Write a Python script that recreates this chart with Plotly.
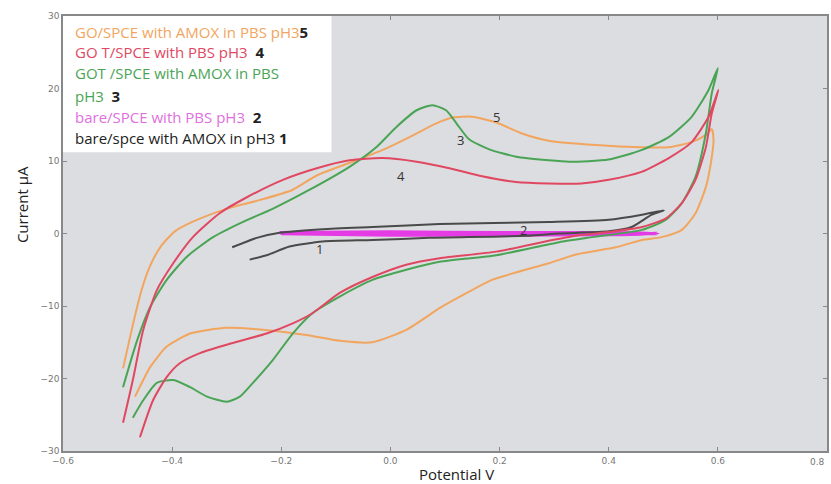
import plotly.graph_objects as go

# ---- data (potential V, current uA) ----
go_amox_x = [-0.49, -0.472, -0.456, -0.44, -0.42, -0.395, -0.36, -0.30, -0.24, -0.18, -0.135, -0.062, -0.015, 0.035, 0.084, 0.114, 0.15, 0.194, 0.241, 0.29, 0.377, 0.46, 0.51, 0.552, 0.578, 0.589,
             0.592, 0.589, 0.578, 0.559, 0.534, 0.497, 0.461, 0.413, 0.34, 0.29, 0.186, 0.14, 0.09, 0.029, -0.033, -0.093, -0.154, -0.216, -0.30, -0.367, -0.41, -0.44, -0.468]
go_amox_y = [-18.6, -12.6, -7.8, -4.4, -1.7, 0.3, 1.7, 3.4, 4.6, 6.0, 8.0, 10.1, 11.5, 13.3, 15.2, 16.0, 16.1, 15.3, 13.8, 12.8, 12.2, 11.9, 11.9, 12.6, 13.6, 14.4,
             12.9, 10.6, 6.4, 2.8, 0.5, -0.5, -0.9, -1.9, -2.9, -4.1, -6.4, -8.2, -10.3, -13.3, -15.0, -14.8, -14.0, -13.4, -13.0, -13.8, -15.6, -18.4, -22.5]

got_pbs_x = [-0.49, -0.472, -0.453, -0.428, -0.398, -0.362, -0.313, -0.263, -0.197, -0.135, -0.075, -0.015, 0.048, 0.108, 0.168, 0.23, 0.29, 0.35, 0.40, 0.46, 0.51, 0.552, 0.583, 0.601,
             0.589, 0.578, 0.559, 0.534, 0.505, 0.461, 0.40, 0.34, 0.29, 0.194, 0.09, 0.029, -0.033, -0.093, -0.143, -0.179, -0.227, -0.289, -0.349, -0.386, -0.41, -0.435, -0.459]
got_pbs_y = [-26.1, -20.2, -13.3, -7.8, -4.1, -0.5, 2.8, 5.0, 7.4, 9.0, 10.1, 10.4, 9.9, 9.0, 7.9, 7.1, 6.9, 6.9, 7.4, 8.5, 10.4, 12.6, 16.1, 19.8,
             16.6, 11.9, 7.4, 4.2, 2.1, 0.9, 0.2, -0.3, -1.0, -2.5, -3.4, -4.3, -6.0, -8.2, -11.0, -12.4, -13.8, -15.1, -16.5, -17.9, -19.8, -23.0, -28.1]

got_amox_x = [-0.49, -0.464, -0.44, -0.41, -0.373, -0.325, -0.276, -0.216, -0.154, -0.075, -0.026, 0.011, 0.048, 0.077, 0.102, 0.121, 0.144, 0.181, 0.23, 0.29, 0.327, 0.40, 0.46, 0.51, 0.552, 0.583, 0.60,
              0.589, 0.578, 0.559, 0.534, 0.505, 0.461, 0.37, 0.309, 0.194, 0.09, 0.029, -0.033, -0.093, -0.143, -0.179, -0.216, -0.252, -0.276, -0.30, -0.336, -0.367, -0.398, -0.428, -0.453, -0.472]
got_amox_y = [-21.2, -14.7, -10.1, -6.4, -3.2, -0.5, 1.4, 3.4, 5.8, 9.2, 11.9, 14.7, 17.0, 17.7, 17.0, 15.2, 13.0, 11.6, 10.6, 10.1, 9.9, 10.2, 11.5, 13.3, 16.1, 19.8, 22.8,
              19.4, 13.8, 7.8, 4.2, 1.9, 0.5, -0.5, -1.2, -3.0, -3.9, -5.0, -6.4, -8.7, -11.0, -13.8, -17.5, -20.6, -22.5, -23.2, -22.5, -21.2, -20.2, -20.6, -23.0, -25.4]

bare_pbs_x = [-0.203, 0.0, 0.2, 0.4, 0.49, 0.4, 0.2, 0.0, -0.2]
bare_pbs_y = [0.1, 0.2, 0.1, 0.1, 0.0, -0.15, -0.2, -0.2, 0.0]

bare_amox_x = [-0.29, -0.245, -0.203, -0.124, -0.033, 0.09, 0.29, 0.40, 0.461, 0.501, 0.479, 0.442, 0.40, 0.309, 0.25, 0.071, -0.033, -0.124, -0.185, -0.227, -0.258]
bare_amox_y = [-1.9, -0.6, 0.1, 0.6, 0.9, 1.3, 1.6, 1.9, 2.6, 3.2, 2.6, 0.9, 0.3, 0.0, -0.3, -0.6, -0.9, -1.1, -1.8, -3.0, -3.6]

legend_texts = ["GO/SPCE with AMOX in PBS pH3", "GO T/SPCE with PBS pH3", "GOT /SPCE with AMOX in PBS",
                "pH3", "bare/SPCE with PBS pH3", "bare/spce with AMOX in pH3"]
legend_nums = ["5", "  4", "", "  3", "  2", " 1"]
curve_labels = ["5", "3", "4", "2", "1"]

C_OR = "#f2a55e"
C_RD = "#e04862"
C_GN = "#4aa455"
C_MG = "#e53be5"
C_BK = "#4a4a4a"

fig = go.Figure()

def add(x, y, c, w=2):
    fig.add_trace(go.Scatter(x=x, y=y, mode="lines", line=dict(color=c, width=w, shape="spline", smoothing=0.6),
                             showlegend=False, hoverinfo="skip"))

add(bare_pbs_x, bare_pbs_y, C_MG, 3.5)
add(bare_amox_x, bare_amox_y, C_BK, 2)
add(go_amox_x, go_amox_y, C_OR, 2)
add(got_amox_x, got_amox_y, C_GN, 2)
add(got_pbs_x, got_pbs_y, C_RD, 2)

# legend box
fig.add_shape(type="rect", xref="x", yref="y", x0=-0.6, x1=-0.108, y0=11.2, y1=30,
              fillcolor="white", line=dict(width=0), layer="above")

leg_colors = [C_OR, C_RD, C_GN, C_GN, "#e070e0", "#222222"]
leg_y = [32, 52, 73, 96, 117, 138]
for t, n, c, py in zip(legend_texts, legend_nums, leg_colors, leg_y):
    fig.add_annotation(xref="paper", yref="paper", x=(73 - 63) / 766, y=1 - (py - 16) / 435,
                       xanchor="left", yanchor="middle", showarrow=False,
                       text=f'<span style="color:{c}">{t}</span><span style="color:#222222"><b>{n}</b></span>',
                       font=dict(family="Open Sans", size=15))

label_pos = [(0.194, 16.1), (0.128, 12.9), (0.02, 7.9), (0.243, 0.5), (-0.13, -2.1)]
for t, (lx, ly) in zip(curve_labels, label_pos):
    fig.add_annotation(x=lx, y=ly, text=t, showarrow=False, font=dict(family="Open Sans", size=13, color="#333333"))

# last x tick label at the right edge
fig.add_annotation(x=0.8, xref="x", yref="paper", y=0, yshift=-11, text="0.8", showarrow=False,
                   xanchor="right", yanchor="middle", font=dict(family="DejaVu Sans", size=9, color="#777777"))

fig.add_annotation(xref="paper", yref="paper", x=(458 - 63) / 766, y=-(474 - 451) / 435, text="Potential V",
                   showarrow=False, xanchor="center", yanchor="middle", font=dict(family="Open Sans", size=15, color="#222222"))
fig.add_annotation(xref="paper", yref="paper", x=-(63 - 22) / 766, y=1 - (205 - 16) / 435, text="Current µA",
                   textangle=-90, showarrow=False, xanchor="center", yanchor="middle", font=dict(family="Open Sans", size=15, color="#222222"))

axis_common = dict(showgrid=False, zeroline=False, showline=True, linecolor="#888888", linewidth=1.5,
                   mirror="ticks", ticks="inside", ticklen=4, tickcolor="#888888",
                   tickfont=dict(family="DejaVu Sans", size=9, color="#777777"))
fig.update_xaxes(range=[-0.6, 0.8], dtick=0.2, tick0=-0.6, tickformat=".1f", **axis_common)
fig.update_yaxes(range=[-30, 30], dtick=10, **axis_common)

fig.update_layout(width=831, height=484, margin=dict(l=63, r=2, t=16, b=33),
                  plot_bgcolor="#dcdde0", paper_bgcolor="white", separators=".,")
fig.write_html("out.html")
